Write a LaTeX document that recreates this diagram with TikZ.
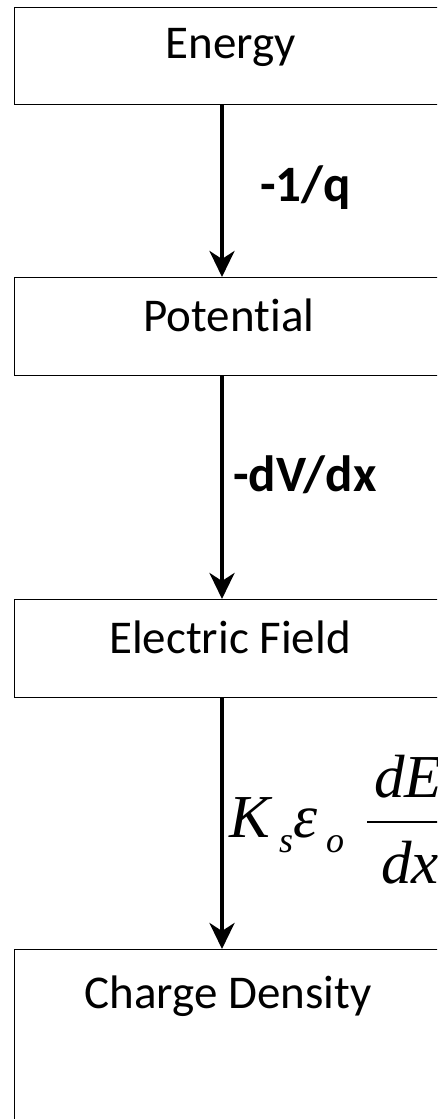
\documentclass[tikz,border=0pt]{standalone}
\usepackage{fontspec}
\setmainfont{Carlito}[Ligatures=NoCommon]
\newfontfamily\tms{Liberation Serif}
\usetikzlibrary{arrows.meta}
\begin{document}
\begin{tikzpicture}[x=1pt,y=-1pt,
  boxshape/.style={draw=black, line width=1.3pt, rectangle, anchor=north west, inner sep=0pt, minimum width=432pt},
  boxtext/.style={anchor=base, inner sep=0pt, font=\fontsize{47}{56}\selectfont},
  arrlabel/.style={anchor=base west, inner sep=0pt, font=\fontsize{51}{60}\selectfont\bfseries},
  mathbig/.style={anchor=base west, inner sep=0pt, font=\fontsize{61}{70}\selectfont\tms\itshape},
  mathsub/.style={anchor=base west, inner sep=0pt, font=\fontsize{36}{42}\selectfont\tms\itshape},
  flowarrow/.style={line width=4pt, -{Stealth[length=26pt, width=25pt, inset=8pt]}}
]
\useasboundingbox (0,0) rectangle (437,1119);
\clip (0,0) rectangle (437,1119);
\fill[white] (0,0) rectangle (437,1119);

% boxes
\node[boxshape, minimum height=97pt] (energy) at (14,7) {};
\node[boxshape, minimum height=98pt] (pot) at (14,277) {};
\node[boxshape, minimum height=98pt] (field) at (14,599) {};
\node[boxshape, minimum height=260pt] (charge) at (14,949) {};

% box texts
\node[boxtext] (tenergy) at (231,58) {Energy};
\node[boxtext] (tpot) at (229,331) {Potential};
\node[boxtext] (tfield) at (230,653) {Electric Field};
\node[boxtext] (tcharge) at (228,1008) {Charge Density};

% arrows
\draw[flowarrow] ([xshift=208pt]energy.south west) -- ([xshift=208pt]pot.north west);
\draw[flowarrow] ([xshift=208pt]pot.south west) -- ([xshift=208pt]field.north west);
\draw[flowarrow] ([xshift=208pt]field.south west) -- ([xshift=208pt]charge.north west);

% labels
\node[arrlabel] (l1) at (260,201) {-1/q};
\node[arrlabel] (l2) at (233,491) {-dV/dx};

% K_s eps_o dE/dx
\node[mathbig] (mk) at (229,837) {K};
\node[mathsub] (ms) at (279,852) {s};
\node[mathbig] (me) at (293,837) {\char"03B5};
\node[mathsub] (mo) at (326,852) {o};
\node[mathbig] (mnum) at (374,797) {dE};
\node[mathbig] (mden) at (381,883) {dx};
\coordinate (barL) at (367,822);
\coordinate (barR) at (470,822);
\draw[line width=2.3pt] (barL) -- (barR);
\end{tikzpicture}
\end{document}
